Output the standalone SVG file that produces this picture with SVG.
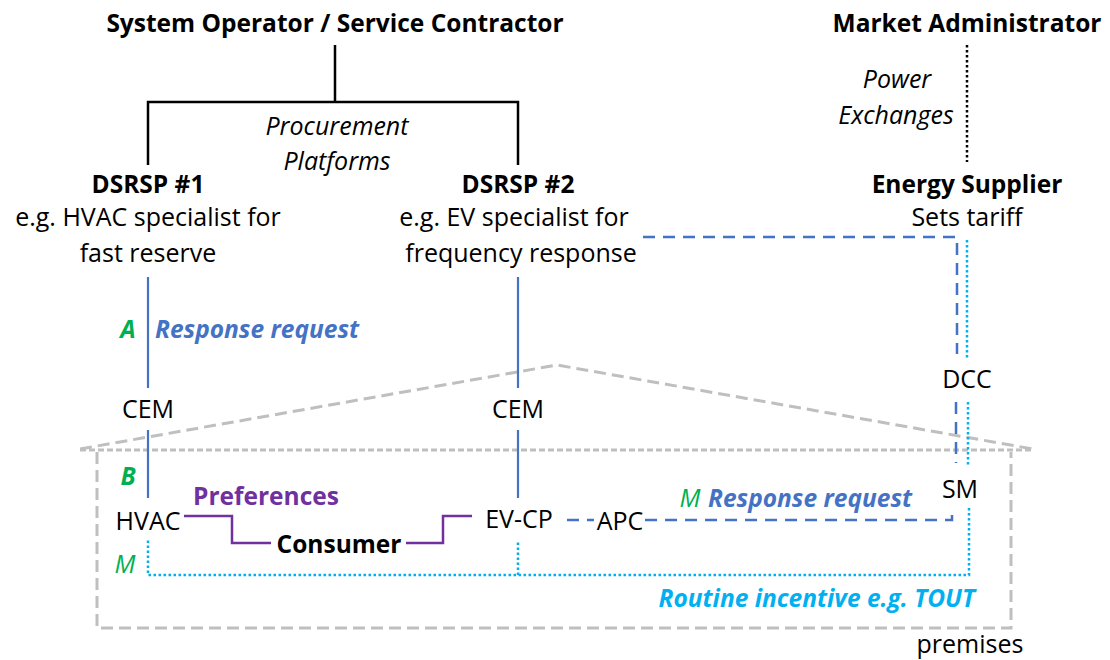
<svg xmlns="http://www.w3.org/2000/svg" width="1110" height="660" viewBox="0 0 1110 660">
<style>
text{font-family:"Open Sans","Noto Sans","Liberation Sans",sans-serif;font-size:25px;fill:#000}
.b{font-weight:bold;font-size:24.5px}
.i{font-style:italic}
.c{text-anchor:middle}
.blue{fill:#4472C4}
.cyan{fill:#00B0F0}
.green{fill:#00B050}
.purple{fill:#7030A0}
.k{stroke:#000;stroke-width:2.5;fill:none}
.bl{stroke:#4472C4;stroke-width:2.2;fill:none}
.bd{stroke:#4472C4;stroke-width:2.5;fill:none;stroke-dasharray:12 8}
.cd{stroke:#00B0F0;stroke-width:2.5;fill:none;stroke-dasharray:2.5 2.5}
.pu{stroke:#7030A0;stroke-width:2.5;fill:none}
.gr{stroke:#BFBFBF;stroke-width:3;fill:none;stroke-dasharray:12 6}
</style>
<rect width="1110" height="660" fill="#fff"/>
<g id="premises">
<path class="gr" d="M80 449 L557 365 L1033 449"/>
<path class="gr" d="M80 450 L1033 450" style="stroke-dasharray:6 3"/>
<path class="gr" d="M97 452 L97 628 L1011 628 L1011 452"/>
<text x="970" y="653" class="c">premises</text>
</g>
<g id="connectors">
<path class="k" d="M335 45 V102 M148 165 V102 H518 V165"/>
<path class="k" d="M967 45 V162" style="stroke-dasharray:2.5 2.5"/>
<path class="bl" d="M148 277 V388 M148 430 V498 M518 277 V388 M518 430 V498"/>
<path class="bd" d="M643 237 H957 V354 M956 402 V463"/>
<path class="bd" d="M567 520 H594 M645 520 H952 V508"/>
<path class="cd" d="M967 240 V358 M968 402 V465 M969 508 V575 H148 V540 M518 575 V540"/>
<path class="pu" d="M184 516 H232 V543 H271 M406 543 H443 V516 H472"/>
</g>
<g id="so"><text x="335" y="32" class="b c">System Operator / Service Contractor</text></g>
<g id="pp"><text x="337" y="135" class="i c">Procurement</text><text x="337" y="170" class="i c">Platforms</text></g>
<g id="ma"><text x="967" y="32" class="b c">Market Administrator</text></g>
<g id="pe"><text x="897" y="88" class="i c">Power</text><text x="896" y="124" class="i c">Exchanges</text></g>
<g id="d1"><text x="148" y="193" class="b c">DSRSP #1</text><text x="148" y="226" class="c">e.g. HVAC specialist for</text><text x="148" y="262" class="c">fast reserve</text></g>
<g id="d2"><text x="518" y="193" class="b c">DSRSP #2</text><text x="514" y="226" class="c">e.g. EV specialist for</text><text x="521" y="262" class="c">frequency response</text></g>
<g id="es"><text x="967" y="193" class="b c">Energy Supplier</text><text x="967" y="226" class="c">Sets tariff</text></g>
<g id="la"><text x="128" y="338" class="b i c green">A</text><text x="155" y="338" class="b i blue">Response request</text></g>
<g id="cem1"><text x="148" y="418" class="c">CEM</text></g>
<g id="cem2"><text x="518" y="418" class="c">CEM</text></g>
<g id="dcc"><text x="967" y="388" class="c">DCC</text></g>
<g id="lb"><text x="128" y="485" class="b i c green">B</text></g>
<g id="pref"><text x="193" y="505" class="b purple">Preferences</text></g>
<g id="hvac"><text x="148" y="530" class="c">HVAC</text></g>
<g id="cons"><text x="339" y="553" class="b c">Consumer</text></g>
<g id="evcp"><text x="519" y="528" class="c">EV-CP</text></g>
<g id="apc"><text x="620" y="530" class="c">APC</text></g>
<g id="sm"><text x="960" y="498" class="c">SM</text></g>
<g id="lm2"><text x="690" y="507" class="i c green">M</text><text x="708" y="507" class="b i blue">Response request</text></g>
<g id="lm1"><text x="125" y="573" class="i c green">M</text></g>
<g id="rt"><text x="975" y="607" class="b i cyan" style="text-anchor:end">Routine incentive e.g. TOUT</text></g>
</svg>
